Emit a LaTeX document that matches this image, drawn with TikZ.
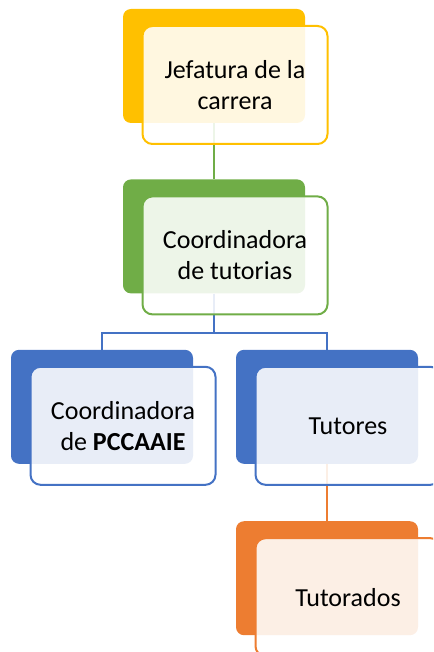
\documentclass[tikz,border=0pt]{standalone}
\usepackage{fontspec}
\setmainfont{Carlito}
\usepackage{xcolor}
\usepackage{tikz}
\usetikzlibrary{positioning}

\definecolor{ofyellow}{HTML}{FFC000}
\definecolor{ofgreen}{HTML}{70AD47}
\definecolor{ofblue}{HTML}{4472C4}
\definecolor{oforange}{HTML}{ED7D31}

\begin{document}
\begin{tikzpicture}[x=1pt,y=-1pt,node distance=56pt,
  backbox/.style={fill=#1,rounded corners=8pt,minimum width=182pt,
    minimum height=114pt,inner sep=0pt},
  frontbox/.style={draw=#1,line width=2pt,fill=white,fill opacity=0.88,
    text opacity=1,rounded corners=10pt,minimum width=185pt,
    minimum height=118pt,align=center,font=\fontsize{26}{31}\selectfont},
  link/.style={draw=#1,line width=2pt}]

\useasboundingbox (0,0) rectangle (433,652);
\clip (0,0) rectangle (433,652);

% coloured boxes behind
\node[backbox=ofyellow] (b1) at (214,66) {};
\node[backbox=ofgreen] (b2) [below=56pt of b1] {};
\node[backbox=ofblue] (b3) [below=56pt of b2, xshift=-112pt] {};
\node[backbox=ofblue] (b4) [below=56pt of b2, xshift=113pt] {};
\node[backbox=oforange] (b5) [below=57pt of b4] {};

% connectors
\path[link=ofgreen] (b1.south) -- (b2.north);
\path[link=ofblue] (b2.south) -- ++(0,39) coordinate (fork)
  -| (b3.north) (fork) -| (b4.north);
\path[link=oforange] (b4.south) -- (b5.north);

% text boxes in front
\node[frontbox=ofyellow] (f1) at ([shift={(21pt,-19pt)}]b1) {Jefatura de la\\carrera};
\node[frontbox=ofgreen] (f2) at ([shift={(21pt,-19pt)}]b2) {Coordinadora\\de tutorias};
\node[frontbox=ofblue] (f3) at ([shift={(21pt,-19pt)}]b3) {Coordinadora\\de \textbf{PCCAAIE}};
\node[frontbox=ofblue] (f4) at ([shift={(21pt,-19pt)}]b4) {Tutores};
\node[frontbox=oforange] (f5) at ([shift={(21pt,-19pt)}]b5) {Tutorados};
\end{tikzpicture}
\end{document}
